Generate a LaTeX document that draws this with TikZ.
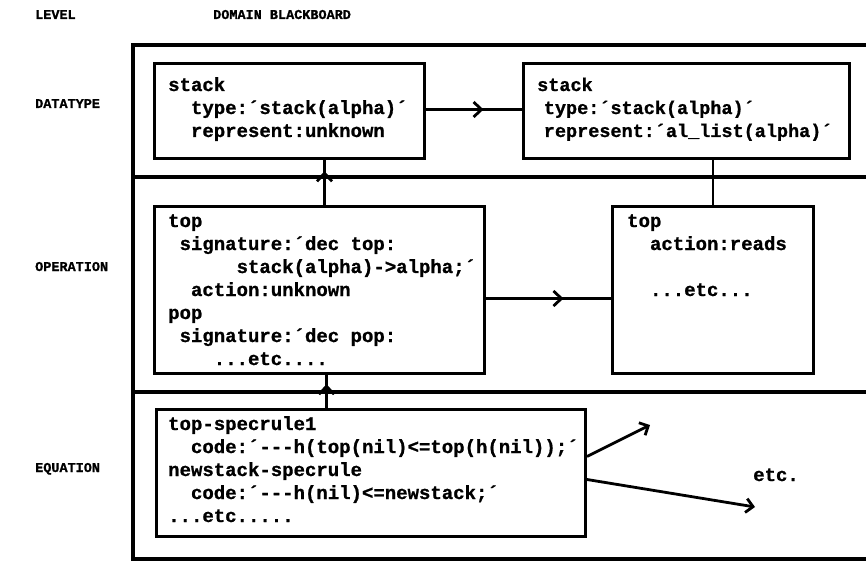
\documentclass[tikz,border=0pt]{standalone}
\usepackage{fontspec}
\setmonofont{Liberation Mono}
\newfontfamily\twfont[BoldFeatures={FakeBold=1}]{Liberation Mono}
\usetikzlibrary{arrows.meta,decorations.markings,calc}
\newcommand\cols[1]{\kern#1\fontcharwd\font`x\relax}
\tikzset{
  boxnode/.style={draw, line width=3pt, inner sep=0pt, anchor=north west},
  txt/.style={inner sep=0pt, anchor=base west, font=\twfont\bfseries\fontsize{19}{22}\selectfont},
  txtsmall/.style={inner sep=0pt, anchor=base west, font=\twfont\bfseries\fontsize{18.5}{22}\selectfont},
  lbl/.style={inner sep=0pt, anchor=base west, font=\twfont\bfseries\fontsize{13.5}{16}\selectfont},
  conn/.style={line width=2.8pt},
  framepath/.style={line width=3.4pt},
  midarrow/.style={postaction={decorate}, decoration={markings, mark=at position #1 with {\arrow{Straight Barb[length=8pt,width=15pt]}}}},
  endarrow/.style={-{Straight Barb[length=7pt,width=14pt]}}
}
\begin{document}
\begin{tikzpicture}[x=1pt,y=-1pt]
\useasboundingbox (0,0) rectangle (866,564);
% blackboard frame
\draw[framepath] (872,45) -| (133,559) -- (872,559);
\draw[framepath] (133,177) -- (872,177);
\draw[framepath] (133,392) -- (872,392);
% headings
\node[lbl] (hlevel) at (35,19) {LEVEL};
\node[lbl] (hdomain) at (213,19) {DOMAIN BLACKBOARD};
\node[lbl] (ldatatype) at (35,108) {DATATYPE};
\node[lbl] (loperation) at (35,271) {OPERATION};
\node[lbl] (lequation) at (35,472) {EQUATION};
% boxes
\node[boxnode, minimum width=270pt, minimum height=95pt] (box1) at (153,62) {};
\node[boxnode, minimum width=326pt, minimum height=95pt] (box2) at (522,62) {};
\node[boxnode, minimum width=330pt, minimum height=167pt] (op1) at (153,205) {};
\node[boxnode, minimum width=201pt, minimum height=167pt] (op2) at (611,205) {};
\node[boxnode, minimum width=429pt, minimum height=127pt] (eq) at (155,408) {};
% texts
\node[txt] (t1) at (168,91) {\vtop{\baselineskip=23pt
  \hbox{stack}
  \hbox{\cols{2}type:´stack(alpha)´}
  \hbox{\cols{2}represent:unknown}}};
\node[txtsmall] (t2) at (537,91) {\vtop{\baselineskip=23pt
  \hbox{stack}
  \hbox{\cols{0.6}type:´stack(alpha)´}
  \hbox{\cols{0.6}represent:´al\_list(alpha)´}}};
\node[txt] (t3) at (168,227) {\vtop{\baselineskip=23pt
  \hbox{top}
  \hbox{\cols{1}signature:´dec top:}
  \hbox{\cols{6}stack(alpha)->alpha;´}
  \hbox{\cols{2}action:unknown}
  \hbox{pop}
  \hbox{\cols{1}signature:´dec pop:}
  \hbox{\cols{4}...etc....}}};
\node[txt] (t4) at (627,227) {\vtop{\baselineskip=23pt
  \hbox{top}
  \hbox{\cols{2}action:reads}
  \hbox{}
  \hbox{\cols{2}...etc...}}};
\node[txt] (t5) at (168,430) {\vtop{\baselineskip=23pt
  \hbox{top-specrule1}
  \hbox{\cols{2}code:´---h(top(nil)<=top(h(nil));´}
  \hbox{newstack-specrule}
  \hbox{\cols{2}code:´---h(nil)<=newstack;´}
  \hbox{...etc.....}}};
\node[txt] (etc) at (753,481) {etc.};
% connectors
\draw[conn, midarrow=0.6] ([yshift=1.5pt]box1.east) -- ([yshift=1.5pt]box2.west);
\draw[conn, midarrow=0.62] ([yshift=-8.5pt]op1.east) -- ([yshift=-8.5pt]op2.west);
\coordinate (a1) at ($(op1.north)+(5,0)$);
\draw[conn, midarrow=0.75] (a1) -- (a1 |- box1.south);
\coordinate (a2) at ($(eq.north)+(-44.5,0)$);
\draw[conn, midarrow=0.72] (a2) -- (a2 |- op1.south);
\draw[conn] (op2.north) -- (op2.north |- box2.south);
\coordinate (e1) at (650,425);
\coordinate (e2) at (755,507);
\draw[conn, endarrow] ([yshift=16.5pt]eq.east) -- (e1);
\draw[conn, endarrow] ([yshift=-6.5pt]eq.east) -- (e2);
\end{tikzpicture}
\end{document}
